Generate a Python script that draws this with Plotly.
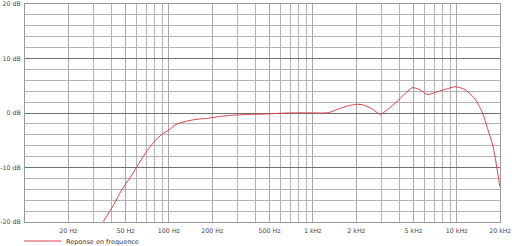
import plotly.graph_objects as go
import numpy as np

freq_hz = [35, 41, 47, 54, 60, 68.6, 80.8, 90, 100, 114, 138, 162, 186, 230, 292, 380, 475, 655, 900, 1280,
           1545, 1750, 2020, 2250, 2600, 2940, 3300, 3840, 4400, 4900, 5300, 5600, 6250, 7140, 8360, 9840,
           11550, 13550, 15160, 16370, 17780, 18710, 19950]
level_db = [-19.9, -17.0, -14.1, -11.8, -9.85, -7.4, -4.95, -3.9, -3.1, -2.0, -1.4, -1.1, -0.98, -0.6, -0.37,
            -0.25, -0.18, 0.0, 0.03, 0.06,
            0.85, 1.3, 1.6, 1.47, 0.7, -0.24, 0.6, 2.1, 3.6, 4.65, 4.5, 4.2, 3.4, 3.8, 4.35, 4.83,
            4.22, 2.38, -0.06, -2.8, -5.87, -8.9, -13.5]

x_tick_vals = [20, 50, 100, 200, 500, 1000, 2000, 5000, 10000, 20000]
x_tick_text = ["20 Hz", "50 Hz", "100 Hz", "200 Hz", "500 Hz", "1 kHz", "2 kHz", "5 kHz", "10 kHz", "20 kHz"]
y_tick_vals = [-20, -10, 0, 10, 20]
y_tick_text = ["-20 dB", "-10 dB", "0 dB", "10 dB", "20 dB"]

minor_x = [m * 10 ** d for d in range(1, 5) for m in range(1, 10) if m * 10 ** d <= 20000]

fig = go.Figure()
fig.add_trace(go.Scatter(
    x=freq_hz, y=level_db, mode="lines", name="Reponse en frequence",
    line=dict(color="#d9454f", width=1, shape="spline", smoothing=0.6),
))

fig.update_layout(
    width=512, height=246,
    margin=dict(l=25, r=12, t=4, b=24, autoexpand=False),
    paper_bgcolor="white", plot_bgcolor="white",
    font=dict(family="DejaVu Sans", size=6.3, color="#444"),
    showlegend=True,
    legend=dict(orientation="h", x=19 / 512, xref="container", xanchor="left",
                y=5 / 246, yref="container", yanchor="middle",
                font=dict(size=6.5, color="#333"), bgcolor="rgba(0,0,0,0)",
                itemwidth=37, tracegroupgap=0),
)
fig.update_xaxes(
    type="log", range=[1, np.log10(20000)],
    tickvals=x_tick_vals, ticktext=x_tick_text, ticks="outside", ticklen=2, tickcolor="rgba(0,0,0,0)",
    showgrid=True, gridcolor="#a8a8a8", gridwidth=1,
    minor=dict(tickvals=minor_x, showgrid=True, gridcolor="#b4b4b4", gridwidth=1, ticks=""),
    showline=True, linecolor="#999", linewidth=1, mirror=True, automargin=False,
    zeroline=False, tickfont=dict(size=6.3, color="#444"),
)
fig.update_yaxes(
    range=[-20, 20], tickvals=y_tick_vals, ticktext=y_tick_text, ticks="",
    showgrid=True, gridcolor="#707070", gridwidth=1,
    minor=dict(dtick=2, showgrid=True, gridcolor="#b4b4b4", gridwidth=1, ticks=""),
    showline=True, linecolor="#999", linewidth=1, mirror=True, automargin=False,
    zeroline=False, tickfont=dict(size=6.3, color="#444"), ticklabelstandoff=2,
)

fig.write_html("out.html")
